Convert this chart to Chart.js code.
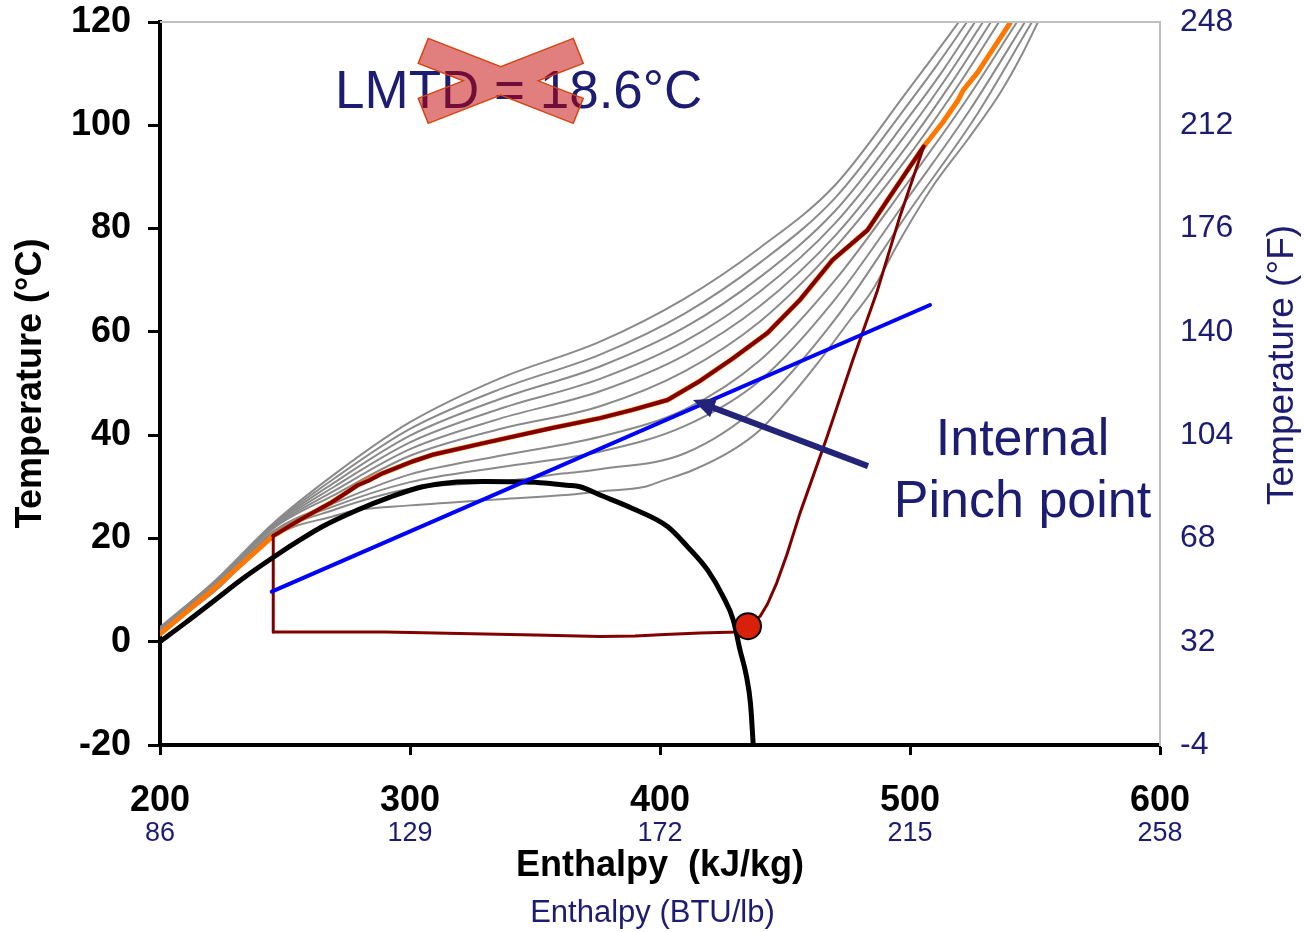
<!DOCTYPE html>
<html>
<head>
<meta charset="utf-8">
<title>Enthalpy - Temperature</title>
<script src="https://cdn.jsdelivr.net/npm/chart.js@4.4.1/dist/chart.umd.min.js"></script>
<style>
  html, body { margin: 0; padding: 0; background: #fff; }
</style>
</head>
<body>
<canvas id="myChart" width="1305" height="932"></canvas>
<script>
// saturation dome of the working fluid
const domeH = [200, 210, 221, 233, 246.7, 256, 265, 279, 292, 305, 316, 330, 352, 363, 368, 376, 389, 403, 411, 419, 425.3, 429.3, 432, 434.5, 436.2, 437.3];
const domeT = [0, 3.6, 7.7, 12.2, 16.8, 19.7, 22.3, 25.5, 28.0, 30.0, 30.8, 31.0, 30.8, 30.3, 30.0, 28.4, 25.8, 22.3, 18.4, 13.9, 8.7, 4.2, -1.6, -6.5, -12.0, -20];

// cycle: pump, heating, expansion, condensing back to the start
const cycleH = [245.3, 245.3, 256, 268, 275, 279, 284, 289, 301, 309, 329, 356, 376, 389, 403, 416, 429, 443, 456, 469, 483, 491, 500, 505.5,
                496, 486.7, 477.3, 466.7, 456, 450.7, 446.7, 443, 440, 435.2,
                431, 416, 402, 390, 376, 350, 320, 290, 245.3];
const cycleT = [1.9, 20.5, 23.6, 26.8, 29.0, 30.3, 31.3, 32.6, 34.9, 36.2, 38.4, 41.3, 43.3, 44.9, 46.8, 50.5, 54.8, 59.8, 66.2, 73.9, 79.7, 85.5, 92.0, 95.9,
                82.4, 67.6, 54.8, 39.5, 24.9, 16.8, 11.4, 7.3, 4.9, 3.0,
                1.9, 1.7, 1.4, 1.1, 1.0, 1.3, 1.6, 1.9, 1.9];
const heatingStart = 1, heatingEnd = 23;

// heating isobar of the cycle
const orangeH = [200, 222, 245.3, 256, 268, 279, 289, 301, 309, 329, 356, 376, 389, 403, 416, 429, 443, 456, 469, 483, 491, 500, 505.5, 513, 519.3, 521.3, 527, 532, 540];
const orangeT = [1.5, 10.4, 20.5, 23.6, 26.8, 30.3, 32.6, 34.9, 36.2, 38.4, 41.3, 43.3, 44.9, 46.8, 50.5, 54.8, 59.8, 66.2, 73.9, 79.7, 85.5, 92.0, 95.9, 100.5, 104.9, 106.8, 110.2, 113.9, 119.8];

// neighbouring isobars
const grayH = [
  [200, 222, 245, 270, 300, 336, 376, 410, 440, 470, 500, 509.3, 519.5],
  [200, 222, 245, 270, 300, 336, 376, 410, 440, 470, 500, 511, 522.8],
  [200, 222, 245, 270, 300, 336, 376, 410, 440, 470, 500, 513, 526],
  [200, 222, 245, 270, 300, 336, 376, 410, 440, 470, 500, 515, 529.2],
  [200, 222, 245, 270, 300, 336, 376, 410, 440, 470, 500, 517, 532.4],
  [200, 222, 245, 270, 300, 336, 376, 410, 440, 470, 500, 519, 535.6],
  [200, 222, 245, 270, 300, 336, 376, 410, 440, 470, 500, 522, 542.8],
  [200, 222, 245, 270, 300, 336, 376, 410, 440, 470, 500, 524, 546],
  [200, 222, 245, 270, 300, 336, 362, 376, 410, 440, 470, 500, 526, 548.8],
  [200, 222, 245, 270, 279, 300, 336, 362, 376, 394, 400, 413, 429, 440, 451, 463, 476, 485, 496, 509, 523, 536, 545, 551.2]
];
const grayT = [
  [2.8, 11.8, 22.8, 32.5, 42.5, 51.0, 58.1, 66.5, 76.3, 88.4, 107.3, 113.3, 120],
  [2.7, 11.6, 22.6, 31.7, 41.2, 48.9, 55.6, 63.6, 73.4, 85.9, 104.6, 111.8, 120],
  [2.6, 11.4, 22.4, 30.9, 39.9, 47.0, 53.3, 60.9, 70.6, 83.4, 101.9, 110.5, 120],
  [2.5, 11.2, 22.2, 30.1, 38.6, 45.1, 50.9, 58.2, 67.8, 81.0, 99.3, 109.5, 120],
  [2.4, 11.0, 22.0, 29.3, 37.3, 43.2, 48.5, 55.5, 65.0, 78.6, 96.8, 108.5, 120],
  [2.3, 10.8, 21.8, 28.5, 36.0, 41.2, 45.6, 52.4, 62.0, 76.3, 94.4, 107.5, 120],
  [2.1, 10.4, 21.3, 26.9, 32.4, 36.0, 39.7, 45.0, 54.5, 70.0, 89.5, 104.5, 120],
  [2.0, 10.2, 21.0, 26.3, 30.9, 33.8, 36.8, 41.8, 50.6, 66.3, 86.5, 103.0, 120],
  [1.9, 10.0, 20.7, 25.6, 29.6, 31.0, 32.6, 33.4, 36.5, 45.9, 62.4, 83.6, 101.5, 120],
  [1.8, 9.8, 20.3, 24.4, 25.5, 26.4, 27.6, 28.4, 29.1, 30.0, 31.0, 33.2, 37.1, 41.0, 46.8, 53.9, 62.3, 68.1, 77.8, 88.1, 97.2, 106.2, 113.9, 120]
];

// straight line through the pinch, the pinch marker and the pointer arrow
const blueH = [244.7, 508];
const blueT = [9.7, 65.2];
const pinchH = [435.2];
const pinchT = [3.0];
const arrowH = [483.2, 413.2];
const arrowT = [34.0, 46.8];

// secondary tick labels
const btuLabels = ['86', '129', '172', '215', '258'];
const fahrLabels = ['-4', '32', '68', '104', '140', '176', '212', '248'];

const NAVY = '#1c1c72';
const FONT = "'Liberation Sans', Arial, sans-serif";
Chart.defaults.font.family = FONT;

function pts(hs, ts) {
  return hs.map((h, i) => ({x: h, y: ts[i]}));
}

function line(data, color, width, order, smooth) {
  const ds = {data: data, showLine: true, borderColor: color, borderWidth: width,
              pointRadius: 0, pointHoverRadius: 0, tension: 0, order: order,
              borderJoinStyle: 'round', borderCapStyle: 'round'};
  if (smooth) ds.cubicInterpolationMode = 'monotone';
  return ds;
}

const cycle = line(pts(cycleH, cycleT), '#800000', 3, 3);
// heating leg a little heavier than the rest of the loop
cycle.segment = {
  borderWidth: c => (c.p0DataIndex >= heatingStart && c.p0DataIndex < heatingEnd) ? 4 : 3
};

const datasets = [
  {data: pts(pinchH, pinchT), pointRadius: 13, pointHoverRadius: 13, backgroundColor: '#d8200a',
   borderColor: '#000', borderWidth: 2, order: 0},
  line(pts(blueH, blueT), '#0000ff', 4, 1),
  line(pts(domeH, domeT), '#000000', 5, 2, true),
  cycle,
  line(pts(orangeH, orangeT), '#ff7700', 5, 4)
];
grayH.forEach((hs, i) => datasets.push(line(pts(hs, grayT[i]), '#8a8a8a', 2, 5, true)));

const notes = {
  id: 'notes',
  afterDatasetsDraw(chart) {
    const {ctx, chartArea: a, scales: {x, y}} = chart;
    const X = v => x.getPixelForValue(v);
    const Y = v => y.getPixelForValue(v);
    ctx.save();

    // frame on top
    ctx.strokeStyle = '#c0c0c0';
    ctx.lineWidth = 2;
    ctx.beginPath();
    ctx.moveTo(a.left, a.top);
    ctx.lineTo(a.right, a.top);
    ctx.stroke();

    // arrow pointing at the pinch
    const x0 = X(arrowH[0]), y0 = Y(arrowT[0]);
    const x1 = X(arrowH[1]), y1 = Y(arrowT[1]);
    const len = Math.hypot(x1 - x0, y1 - y0);
    const ux = (x1 - x0) / len, uy = (y1 - y0) / len;
    const head = 22, half = 10;
    const bx = x1 - ux * head, by = y1 - uy * head;
    ctx.strokeStyle = '#23237a';
    ctx.fillStyle = '#23237a';
    ctx.lineWidth = 6;
    ctx.beginPath();
    ctx.moveTo(x0, y0);
    ctx.lineTo(bx + ux * 2, by + uy * 2);
    ctx.stroke();
    ctx.beginPath();
    ctx.moveTo(x1, y1);
    ctx.lineTo(bx - uy * half, by + ux * half);
    ctx.lineTo(bx + uy * half, by - ux * half);
    ctx.closePath();
    ctx.fill();

    // LMTD label, crossed out
    ctx.fillStyle = NAVY;
    ctx.font = '53px ' + FONT;
    ctx.textAlign = 'left';
    ctx.textBaseline = 'alphabetic';
    ctx.fillText('LMTD = 18.6°C', X(270), Y(103.3));

    const cx = X(336.3), cy = Y(108.6);
    const cross = [[-72.5, -42.5], [0, -14.2], [72.5, -42.5], [82.5, -17.5], [37.5, 0], [82.5, 17.5],
                   [72.5, 42.5], [0, 14.2], [-72.5, 42.5], [-82.5, 17.5], [-37.5, 0], [-82.5, -17.5]];
    ctx.beginPath();
    cross.forEach(([dx, dy], i) => i ? ctx.lineTo(cx + dx, cy + dy) : ctx.moveTo(cx + dx, cy + dy));
    ctx.closePath();
    ctx.fillStyle = 'rgba(196, 0, 0, 0.5)';
    ctx.fill();
    ctx.strokeStyle = '#d44512';
    ctx.lineWidth = 1.5;
    ctx.stroke();

    // pinch point label
    ctx.fillStyle = NAVY;
    ctx.font = '52px ' + FONT;
    ctx.textAlign = 'center';
    ctx.fillText('Internal', X(545), Y(36.2));
    ctx.fillText('Pinch point', X(545), Y(24.2));

    // right axis title, read bottom to top
    ctx.translate(a.right + 123, Y(53.6));
    ctx.rotate(-Math.PI / 2);
    ctx.font = '37px ' + FONT;
    ctx.textBaseline = 'middle';
    ctx.fillText('Temperature (°F)', 0, 0);
    ctx.restore();
  }
};

const ctx = document.getElementById('myChart').getContext('2d');
const chart = new Chart(ctx, {
  type: 'scatter',
  data: {datasets: datasets},
  plugins: [notes],
  options: {
    responsive: false,
    animation: false,
    devicePixelRatio: 1,
    layout: {padding: {top: 22, left: 0, right: 0, bottom: 0}},
    plugins: {
      legend: {display: false},
      tooltip: {enabled: false},
      title: {
        display: true,
        position: 'bottom',
        text: 'Enthalpy (BTU/lb)',
        color: NAVY,
        font: {size: 31, weight: 'normal'},
        padding: 0
      }
    },
    scales: {
      x: {
        type: 'linear', position: 'bottom', min: 200, max: 600,
        ticks: {stepSize: 100, color: '#000', font: {size: 36, weight: 'bold', lineHeight: 1}, padding: 28, maxRotation: 0},
        grid: {display: true, drawOnChartArea: false, drawTicks: true, tickLength: 10, tickWidth: 3, tickColor: '#000'},
        border: {display: true, color: '#000', width: 4},
        afterFit: s => { s.height = 76; }
      },
      x2: {
        type: 'linear', position: 'bottom', min: 200, max: 600,
        ticks: {stepSize: 100, color: NAVY, font: {size: 27, lineHeight: 1}, padding: -1, maxRotation: 0,
                callback: (v, i) => btuLabels[i]},
        grid: {display: false, drawTicks: false},
        border: {display: false},
        title: {display: true, text: 'Enthalpy  (kJ/kg)', color: '#000',
                font: {size: 36, weight: 'bold'}, padding: {top: 0, bottom: 7}},
        afterFit: s => { s.height = 73.8; }
      },
      y: {
        type: 'linear', position: 'left', min: -20, max: 120,
        ticks: {stepSize: 20, color: '#000', font: {size: 36, weight: 'bold'}, padding: 17},
        grid: {display: true, drawOnChartArea: false, drawTicks: true, tickLength: 12, tickWidth: 3, tickColor: '#000'},
        border: {display: true, color: '#000', width: 4},
        title: {display: true, text: 'Temperature (°C)', color: '#000',
                font: {size: 36, weight: 'bold'}, padding: {top: 9, bottom: 0}},
        afterFit: s => { s.width = 160; s.paddingTop = 0; s.paddingBottom = 0; }
      },
      y2: {
        type: 'linear', position: 'right', min: -20, max: 120,
        ticks: {stepSize: 20, color: NAVY, font: {size: 32}, padding: 20,
                callback: (v, i) => fahrLabels[i]},
        grid: {display: false, drawTicks: false},
        border: {display: true, color: '#c0c0c0', width: 2},
        afterFit: s => { s.width = 145; s.paddingTop = 0; s.paddingBottom = 0; }
      }
    }
  }
});
</script>
</body>
</html>
